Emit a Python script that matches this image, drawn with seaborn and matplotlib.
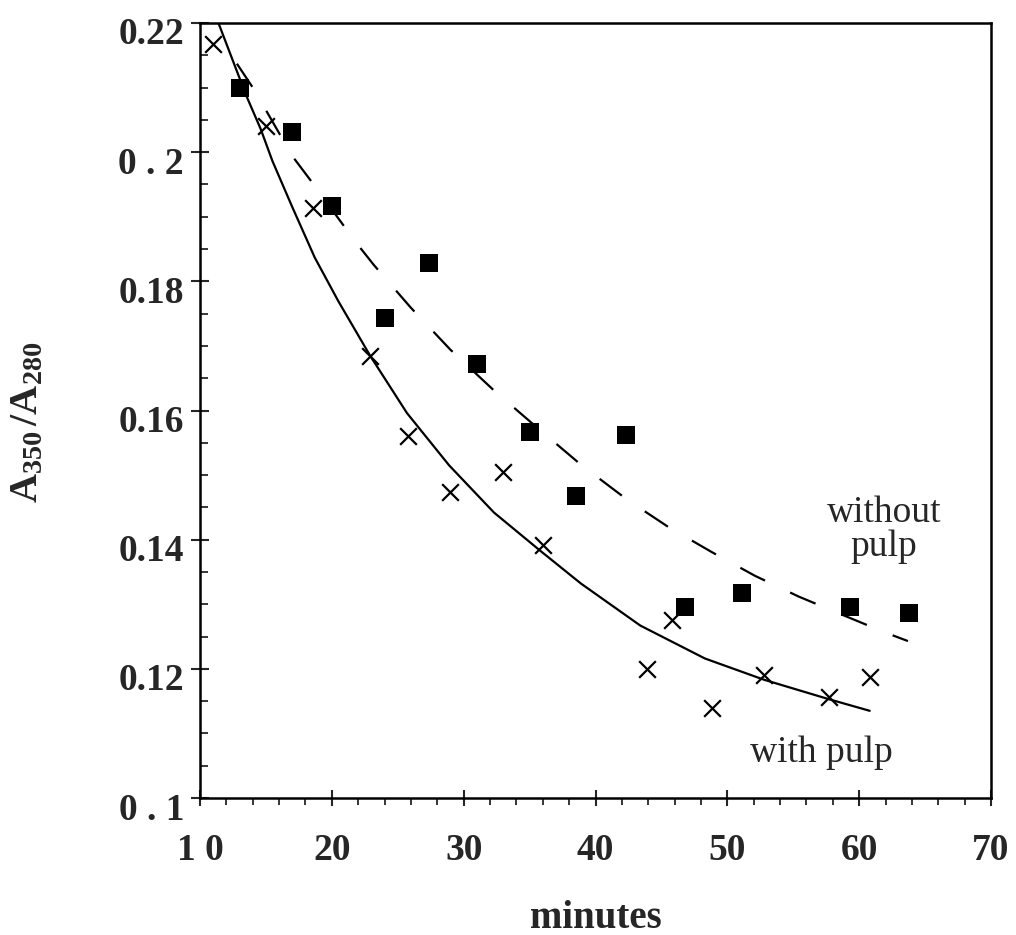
import matplotlib
matplotlib.use('Agg')
import matplotlib.pyplot as plt
import matplotlib.transforms as mtransforms
from matplotlib.ticker import MultipleLocator
import seaborn as sns

# ---- data ----
time_without = [13.0, 17.0, 20.0, 24.0, 27.4, 31.0, 35.0, 38.5, 42.3, 46.8, 51.1, 59.3, 63.8]
ratio_without = [0.2099, 0.2031, 0.1916, 0.1744, 0.1828, 0.1672, 0.1566, 0.1467, 0.1562, 0.1295, 0.1317, 0.1296, 0.1286]

time_with = [11.0, 15.0, 18.6, 22.9, 25.8, 29.0, 33.0, 36.0, 43.9, 45.8, 48.8, 52.8, 57.7, 60.8]
ratio_with = [0.2167, 0.2040, 0.1914, 0.1685, 0.1560, 0.1474, 0.1505, 0.1392, 0.1199, 0.1275, 0.1140, 0.1191, 0.1157, 0.1188]

fit_with_t = [11.4, 13.5, 14.6, 15.5, 17.0, 18.7, 20.5, 22.9, 25.7, 28.9, 32.3, 35.8, 38.9,
              43.4, 48.3, 52.8, 57.7, 60.8]
fit_with_r = [0.2200, 0.2088, 0.2036, 0.1986, 0.1915, 0.1837, 0.1769, 0.1685, 0.1596, 0.1515,
              0.1442, 0.1383, 0.1332, 0.1267, 0.1216, 0.1183, 0.1153, 0.1135]

fit_without_t = [12.8, 14.1, 17.0, 18.4, 21.8, 23.2, 26.0, 29.0, 32.3, 35.6, 38.9, 42.4, 45.5,
                 48.8, 52.1, 55.4, 58.8, 62.0, 63.7]
fit_without_r = [0.2137, 0.2097, 0.1994, 0.1956, 0.1861, 0.1825, 0.1759, 0.1694, 0.1631, 0.1573,
                 0.1516, 0.1462, 0.1420, 0.1381, 0.1344, 0.1312, 0.1283, 0.1256, 0.1243]

x_ticks = [10, 20, 30, 40, 50, 60, 70]
x_ticklabels = ['1 0', '20', '30', '40', '50', '60', '70']
y_ticks = [0.10, 0.12, 0.14, 0.16, 0.18, 0.20, 0.22]
y_ticklabels = ['0 . 1', '0.12', '0.14', '0.16', '0.18', '0 . 2', '0.22']

# ---- style ----
sns.set_style('ticks')
plt.rcParams['font.family'] = ['Liberation Serif', 'DejaVu Serif']
plt.rcParams['mathtext.fontset'] = 'custom'
plt.rcParams['mathtext.rm'] = 'Liberation Serif'
plt.rcParams['mathtext.bf'] = 'Liberation Serif:bold'
plt.rcParams['mathtext.it'] = 'Liberation Serif:italic'

fig = plt.figure(figsize=(10.16, 9.35), dpi=100)
ax = fig.add_axes([200 / 1016, 1 - 798 / 935, 791 / 1016, 775 / 935])

sns.lineplot(x=fit_with_t, y=fit_with_r, ax=ax, color='black', linewidth=1.6,
             sort=False, estimator=None)
sns.lineplot(x=fit_without_t, y=fit_without_r, ax=ax, color='black', linewidth=1.6,
             sort=False, estimator=None, linestyle=(0, (12.5, 12.5)))
sns.scatterplot(x=time_without, y=ratio_without, ax=ax, marker='s', s=13 ** 2,
                color='black', edgecolor='black', linewidth=0, zorder=3)
sns.scatterplot(x=time_with, y=ratio_with, ax=ax, marker='x', s=12 ** 2,
                color='black', linewidth=1.6, zorder=3)

ax.set_xlim(10, 70)
ax.set_ylim(0.10, 0.22)
ax.set_xticks(x_ticks)
ax.set_xticklabels(x_ticklabels)
ax.set_yticks(y_ticks)
ax.set_yticklabels(y_ticklabels)
ax.xaxis.set_minor_locator(MultipleLocator(2))
ax.yaxis.set_minor_locator(MultipleLocator(0.005))

for sp in ax.spines.values():
    sp.set_visible(True)
    sp.set_linewidth(1.8)
    sp.set_color('black')

ax.tick_params(axis='x', which='major', direction='inout', length=12, width=1.5,
               pad=19, labelsize=27, top=False)
ax.tick_params(axis='x', which='minor', direction='out', length=5, width=1.3, top=False)
ax.tick_params(axis='y', which='major', direction='inout', length=13, width=1.5,
               pad=5, labelsize=27, right=False)
ax.tick_params(axis='y', which='minor', direction='in', length=6, width=1.3, right=False)

for lab in ax.get_xticklabels() + ax.get_yticklabels():
    lab.set_fontweight('bold')
shift = mtransforms.ScaledTranslation(0, -0.08, fig.dpi_scale_trans)
for lab in ax.get_yticklabels():
    lab.set_transform(lab.get_transform() + shift)

ax.set_xlabel('minutes', fontsize=28, fontweight='bold')
ax.xaxis.set_label_coords(0.5, (798 - 928) / 775)
ax.xaxis.label.set_verticalalignment('baseline')

ax.set_ylabel(r'$\mathbf{A_{350}\,/A_{280}}$', fontsize=29)
ax.yaxis.set_label_coords((28 - 200) / 791, (798 - 422) / 775)
ax.yaxis.label.set_verticalalignment('center')

ax.text(61.9, 0.1428, 'without', fontsize=27, ha='center', va='baseline')
ax.text(61.9, 0.1374, 'pulp', fontsize=27, ha='center', va='baseline')
ax.text(57.1, 0.1056, 'with pulp', fontsize=27, ha='center', va='baseline')

fig.savefig('out.png', dpi=100, facecolor='white')
